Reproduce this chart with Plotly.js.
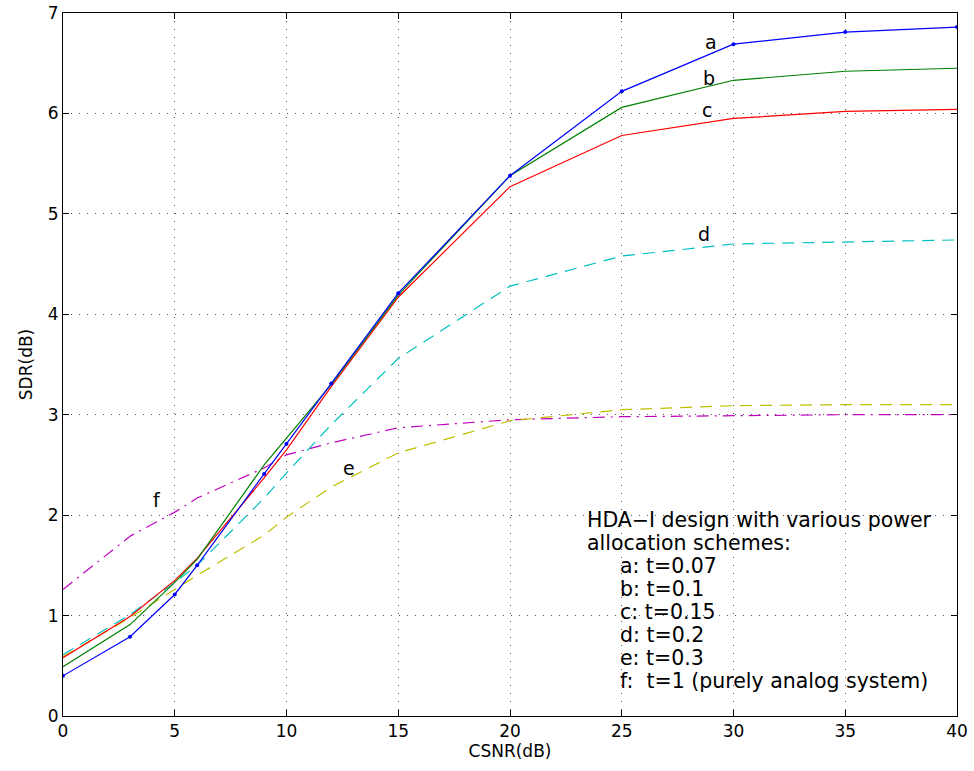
<!DOCTYPE html>
<html>
<head>
<meta charset="utf-8">
<script src="https://cdn.plot.ly/plotly-3.0.1.min.js"></script>
<style>html,body{margin:0;padding:0;background:#fff;}#chart{width:974px;height:771px;}</style>
</head>
<body>
<div id="chart"></div>
<script>
const csnr = [0, 3, 5, 6, 9, 10, 12, 15, 20, 25, 30, 35, 40];
const sdrA = [0.40, 0.79, 1.21, 1.50, 2.41, 2.71, 3.31, 4.21, 5.38, 6.22, 6.69, 6.81, 6.86];
const sdrB = [0.49, 0.91, 1.33, 1.56, 2.50, 2.77, 3.30, 4.19, 5.38, 6.06, 6.33, 6.42, 6.45];
const sdrC = [0.58, 0.99, 1.35, 1.57, 2.37, 2.65, 3.28, 4.17, 5.27, 5.78, 5.95, 6.02, 6.04];
const sdrD = [0.61, 1.01, 1.33, 1.50, 2.17, 2.42, 2.90, 3.56, 4.28, 4.58, 4.70, 4.72, 4.74];
const sdrE = [0.59, 0.98, 1.26, 1.40, 1.80, 1.98, 2.28, 2.62, 2.94, 3.05, 3.09, 3.10, 3.10];
const sdrF = [1.26, 1.79, 2.03, 2.17, 2.47, 2.60, 2.72, 2.87, 2.95, 2.98, 2.99, 3.00, 3.00];
const curveLabels = ['a', 'b', 'c', 'd', 'e', 'f'];
const labelX = [29.0, 28.9, 28.8, 28.7, 12.8, 4.2];
const labelY = [6.71, 6.35, 6.03, 4.80, 2.47, 2.15];
const noteLines = ['HDA\u2212I design with various power', 'allocation schemes:', 'a: t=0.07', 'b: t=0.1', 'c: t=0.15', 'd: t=0.2', 'e: t=0.3', 'f:  t=1 (purely analog system)'];
const xTicks = [0, 5, 10, 15, 20, 25, 30, 35, 40];
const yTicks = [0, 1, 2, 3, 4, 5, 6, 7];

const font = 'DejaVu Sans, Liberation Sans, Arial, sans-serif';
const traces = [
  {x: csnr, y: sdrF, mode: 'lines', line: {color: '#bf00bf', width: 1.2, dash: '12px,6px,2px,6px'}},
  {x: csnr, y: sdrE, mode: 'lines', line: {color: '#bfbf00', width: 1.2, dash: '12px,8px'}},
  {x: csnr, y: sdrD, mode: 'lines', line: {color: '#00bfbf', width: 1.2, dash: '12px,8px'}},
  {x: csnr, y: sdrC, mode: 'lines', line: {color: '#ff0000', width: 1.2}},
  {x: csnr, y: sdrB, mode: 'lines', line: {color: '#008000', width: 1.2}},
  {x: csnr, y: sdrA, mode: 'lines+markers', line: {color: '#0000ff', width: 1.2}, marker: {color: '#0000ff', size: 4}}
];

const annotations = [];
curveLabels.forEach((t, i) => annotations.push({x: labelX[i], y: labelY[i], xref: 'x', yref: 'y', text: t, showarrow: false, font: {family: font, size: 19, color: '#000'}}));
noteLines.forEach((t, i) => annotations.push({
  x: i < 2 ? 23.35 : 24.82, y: 1.95 - i * 0.229, xref: 'x', yref: 'y', xanchor: 'left', yanchor: 'middle',
  text: t, showarrow: false, font: {family: font, size: 20.5, color: '#000'}
}));

const axisCommon = {
  showline: true, linecolor: '#000', linewidth: 1, mirror: 'ticks',
  ticks: 'inside', ticklen: 6, tickcolor: '#000', zeroline: false,
  showgrid: true, gridcolor: '#555', gridwidth: 1, griddash: '1px,7px',
  tickfont: {family: font, size: 17, color: '#000'}
};

const layout = {
  width: 974, height: 771,
  margin: {l: 63, r: 17, t: 13, b: 55},
  paper_bgcolor: '#fff', plot_bgcolor: '#fff',
  showlegend: false,
  xaxis: Object.assign({}, axisCommon, {range: [0, 40], tickvals: xTicks, ticktext: xTicks.map(String),
    title: {text: 'CSNR(dB)', font: {family: font, size: 17, color: '#000'}, standoff: 2}}),
  yaxis: Object.assign({}, axisCommon, {range: [0, 7], tickvals: yTicks, ticktext: yTicks.map(String),
    title: {text: 'SDR(dB)', font: {family: font, size: 17, color: '#000'}, standoff: 10}}),
  annotations: annotations
};

Plotly.newPlot('chart', traces, layout, {displayModeBar: false, staticPlot: true});
</script>
</body>
</html>
